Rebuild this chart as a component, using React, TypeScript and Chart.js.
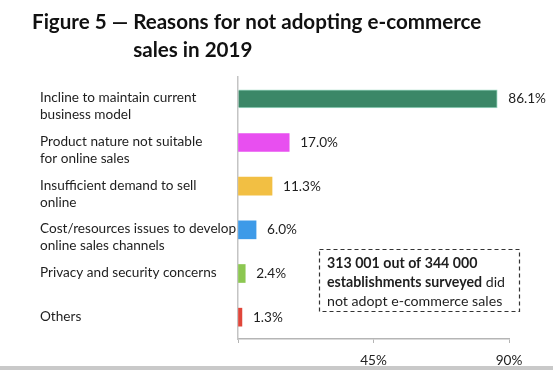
import React, { useEffect, useRef } from "react";
import { Chart, registerables } from "chart.js";

Chart.register(...registerables);

const titleLead = "Figure 5 — ";
const titleLine1 = "Reasons for not adopting e-commerce";
const titleLine2 = "sales in 2019";

const categories: string[][] = [
  ["Incline to maintain current", "business model"],
  ["Product nature not suitable", "for online sales"],
  ["Insufficient demand to sell", "online"],
  ["Cost/resources issues to develop", "online sales channels"],
  ["Privacy and security concerns"],
  ["Others"],
];
const values = [86.1, 17.0, 11.3, 6.0, 2.4, 1.3];
const barColors = ["#3b8767", "#e84ff0", "#f2bf43", "#3d9ae8", "#8cc751", "#e0463a"];
const xTicks = [45, 90];
const noteLines: [string, string][] = [
  ["313 001 out of 344 000", ""],
  ["establishments surveyed", " did"],
  ["", "not adopt e-commerce sales"],
];

const FONT = "Lato, 'Open Sans', sans-serif";

export default function App() {
  const ref = useRef<HTMLCanvasElement | null>(null);
  useEffect(() => {
    if (!ref.current) return;
    const overlay = {
      id: "overlay",
      afterDraw(chart: any) {
        const ctx = chart.ctx as CanvasRenderingContext2D;
        const xs = chart.scales.x;
        const ys = chart.scales.y;
        const area = chart.chartArea;
        ctx.save();
        // title
        ctx.fillStyle = "#111";
        ctx.textBaseline = "middle";
        ctx.textAlign = "left";
        ctx.font = `bold 20.6px ${FONT}`;
        const tx = 32;
        ctx.fillText(titleLead + titleLine1, tx, 22);
        const lead = ctx.measureText(titleLead).width;
        ctx.fillText(titleLine2, tx + lead, 50);
        // category labels
        ctx.font = `13.6px ${FONT}`;
        ctx.fillStyle = "#1e1e1e";
        categories.forEach((lines, i) => {
          const cy = ys.getPixelForValue(i);
          lines.forEach((ln, j) => {
            ctx.fillText(ln, 40, cy - 1 + j * 17);
          });
        });
        // data labels
        values.forEach((v, i) => {
          const cy = ys.getPixelForValue(i);
          ctx.fillText(v.toFixed(1) + "%", xs.getPixelForValue(v) + 11, cy);
        });
        // note box
        const bx = area.left + 81;
        const by = 249;
        const bw = 200;
        const bh = 62;
        ctx.strokeStyle = "#333";
        ctx.lineWidth = 1.2;
        ctx.setLineDash([4, 3]);
        ctx.strokeRect(bx + 0.5, by + 0.5, bw, bh);
        ctx.setLineDash([]);
        noteLines.forEach((pair, k) => {
          let x = bx + 8;
          const y = by + 14 + k * 19;
          ctx.font = `bold 14.2px ${FONT}`;
          ctx.fillText(pair[0], x, y);
          x += ctx.measureText(pair[0]).width;
          ctx.font = `14.2px ${FONT}`;
          ctx.fillText(pair[1], x, y);
        });
        // bottom gray strip
        ctx.fillStyle = "#c9c9c9";
        ctx.fillRect(0, 366, chart.width, 4);
        ctx.restore();
      },
    };
    const chart = new Chart(ref.current, {
      type: "bar",
      data: {
        labels: categories.map((c) => c.join(" ")),
        datasets: [
          {
            data: values,
            backgroundColor: barColors,
            borderColor: barColors.map((c, i) => (i === 0 ? "#9fd9c4" : c)),
            borderWidth: values.map((_, i) => (i === 0 ? 1 : 0)),
            barThickness: 18,
          },
        ],
      },
      options: {
        indexAxis: "y",
        animation: false,
        responsive: false,
        maintainAspectRatio: false,
        layout: { padding: { left: 238, right: 44, top: 77, bottom: 0 } },
        plugins: { legend: { display: false }, tooltip: { enabled: false }, title: { display: false } },
        scales: {
          x: {
            min: 0,
            max: 90,
            afterBuildTicks: (s: any) => {
              s.ticks = [0, ...xTicks].map((v) => ({ value: v }));
            },
            afterFit: (s: any) => {
              s.height = 31;
            },
            ticks: {
              font: { family: FONT, size: 13.6 },
              color: "#222",
              padding: 9,
              maxRotation: 0,
              callback: (v: any) => (v === 0 ? "" : v + "%"),
            },
            grid: { drawOnChartArea: false, tickLength: 4, color: "#b5b5b5" },
            border: { color: "#b5b5b5", width: 1.5 },
          },
          y: {
            afterFit: (s: any) => {
              s.width = 0;
            },
            ticks: { display: false },
            grid: { display: false },
            border: { color: "#c4c4c4", width: 1.5 },
          },
        },
      },
      plugins: [overlay],
    });
    return () => chart.destroy();
  }, []);
  return (
    <div style={{ position: "fixed", left: 0, top: 0, width: 553, height: 370, background: "#fff" }}>
      <canvas ref={ref} width={553} height={370} style={{ width: 553, height: 370, display: "block" }} />
    </div>
  );
}
